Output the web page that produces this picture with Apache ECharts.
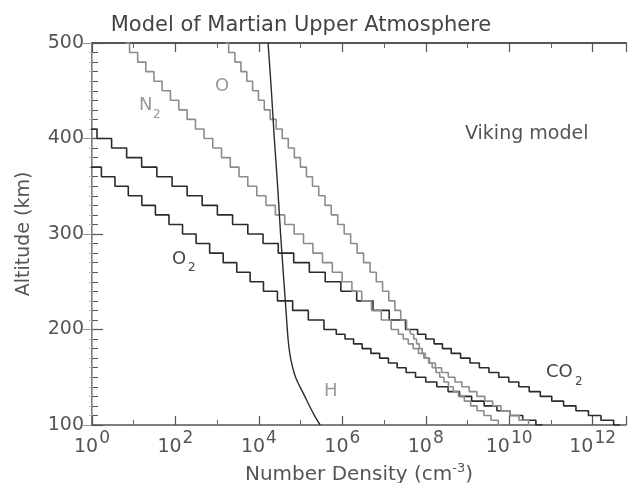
<!DOCTYPE html>
<html>
<head>
<meta charset="utf-8">
<script src="https://cdn.jsdelivr.net/npm/echarts@6/dist/echarts.min.js"></script>
<style>
  html, body { margin: 0; padding: 0; background: #fff; }
  #chart { width: 628px; height: 483px; }
</style>
</head>
<body>
<div id="chart"></div>
<script>
// altitude (km) and log10 of number density (cm^-3)
// model grid is 10 km above 200 km and 5 km below
var co2Alt = [410, 400, 390, 380, 370, 360, 350, 340, 330, 320, 310, 300, 290, 280, 270, 260, 250, 240, 230, 220, 210, 200,
  195, 190, 185, 180, 175, 170, 165, 160, 155, 150, 145, 140, 135, 130, 125, 120, 115, 110, 105, 100];
var co2Log = [-0.05, 0.29, 0.65, 1.01, 1.37, 1.74, 2.10, 2.46, 2.82, 3.19, 3.55, 3.92, 4.28, 4.65, 5.02, 5.40, 5.78, 6.15, 6.54, 6.93, 7.32, 7.71,
  7.90, 8.10, 8.30, 8.50, 8.72, 8.95, 9.17, 9.40, 9.63, 9.87, 10.11, 10.35, 10.61, 10.88, 11.16, 11.45, 11.75, 12.05, 12.35, 12.66];

var o2Alt = [380, 370, 360, 350, 340, 330, 320, 310, 300, 290, 280, 270, 260, 250, 240, 230, 220, 210, 200,
  195, 190, 185, 180, 175, 170, 165, 160, 155, 150, 145, 140, 135, 130, 125, 120, 115, 110, 105, 100];
var o2Log = [-0.26, 0.06, 0.39, 0.71, 1.03, 1.36, 1.68, 2.01, 2.33, 2.66, 2.98, 3.31, 3.63, 3.95, 4.27, 4.62, 5.00, 5.37, 5.75,
  5.96, 6.17, 6.37, 6.58, 6.79, 7.00, 7.21, 7.42, 7.64, 7.87, 8.13, 8.40, 8.67, 8.95, 9.25, 9.55, 9.86, 10.17, 10.48, 10.80];

var fullAlt = [500, 490, 480, 470, 460, 450, 440, 430, 420, 410, 400, 390, 380, 370, 360, 350, 340, 330, 320, 310, 300, 290, 280, 270, 260, 250, 240, 230, 220, 210, 200,
  195, 190, 185, 180, 175, 170, 165, 160, 155, 150, 145, 140, 135, 130, 125, 120, 115, 110, 105, 100];
var n2Log = [0.80, 1.00, 1.19, 1.39, 1.58, 1.78, 1.98, 2.18, 2.38, 2.58, 2.79, 3.00, 3.21, 3.42, 3.63, 3.84, 4.06, 4.28, 4.51, 4.73, 4.96, 5.18, 5.41, 5.64, 5.88, 6.11, 6.35, 6.58, 6.82, 7.05, 7.29,
  7.40, 7.52, 7.64, 7.76, 7.89, 8.02, 8.16, 8.30, 8.46, 8.62, 8.78, 8.95, 9.13, 9.32, 9.51, 9.70, 9.91, 10.12, 10.35, 10.58];
var oLog = [3.20, 3.35, 3.50, 3.64, 3.78, 3.92, 4.06, 4.20, 4.34, 4.49, 4.63, 4.78, 4.92, 5.07, 5.21, 5.36, 5.51, 5.66, 5.81, 5.97, 6.12, 6.28, 6.43, 6.59, 6.74, 6.89, 7.04, 7.19, 7.33, 7.47, 7.61,
  7.68, 7.75, 7.81, 7.88, 7.95, 8.03, 8.11, 8.20, 8.29, 8.38, 8.49, 8.60, 8.72, 8.85, 9.00, 9.15, 9.31, 9.48, 9.65, 9.83];

var hAlt = [500, 450, 400, 350, 300, 250, 220, 190, 170, 150, 130, 110, 100];
var hLog = [4.22, 4.30, 4.37, 4.45, 4.52, 4.60, 4.65, 4.70, 4.76, 4.88, 5.10, 5.33, 5.47];

var xTicks = [0, 2, 4, 6, 8, 10, 12];
var yTicks = [100, 200, 300, 400, 500];

var FONT = 'DejaVu Sans';
var DARK = '#2b2b2b';
var GRAY = '#8c8c8c';
var TEXT = '#555';

function pairs(xs, ys) {
  var out = [];
  for (var i = 0; i < xs.length; i++) {
    out.push([xs[i], ys[i]]);
  }
  return out;
}

function stepSeries(name, xs, ys, color) {
  return {
    name: name,
    type: 'line',
    step: 'middle',
    showSymbol: false,
    clip: true,
    data: pairs(xs, ys),
    lineStyle: { color: color, width: 1.6 }
  };
}

function label(txt, x, y, size, color) {
  return {
    type: 'text', left: x, top: y,
    style: { text: txt, font: size + 'px "DejaVu Sans"', fill: color }
  };
}

var chart = echarts.init(document.getElementById('chart'), null, { renderer: 'canvas' });

var supRich = {
  base: { fontFamily: FONT, fontSize: 19, color: TEXT },
  sup: { fontFamily: FONT, fontSize: 17, color: TEXT, padding: [0, 0, 18, 1] }
};

var option = {
  animation: false,
  backgroundColor: '#fff',
  title: {
    text: 'Model of Martian Upper Atmosphere',
    left: 296,
    textAlign: 'center',
    top: 10,
    textStyle: { fontFamily: FONT, fontSize: 21, fontWeight: 'normal', color: '#444' }
  },
  grid: { left: 92, top: 43, width: 534, height: 382, outerBoundsMode: 'none', containLabel: false },
  xAxis: [{
    type: 'value',
    position: 'bottom',
    min: 0,
    max: 12.8,
    interval: 2,
    name: 'Number Density (cm{sup|-3})',
    nameLocation: 'middle',
    nameGap: 29,
    nameTextStyle: {
      fontFamily: FONT, fontSize: 20, color: TEXT,
      rich: {
        sup: { fontFamily: FONT, fontSize: 13, color: TEXT, padding: [0, 0, 13, 0] }
      }
    },
    splitLine: { show: false },
    axisLine: { lineStyle: { color: '#555', width: 1.5 } },
    axisTick: { inside: true, length: 9, lineStyle: { color: '#555', width: 1.2 } },
    minorTick: { show: true, splitNumber: 2, length: 5, lineStyle: { color: '#666' } },
    axisLabel: {
      margin: 5,
      showMaxLabel: false,
      formatter: function (v) {
        if (xTicks.indexOf(v) < 0) return '';
        return '{base|10}{sup|' + v + '}';
      },
      rich: supRich
    }
  }, {
    type: 'value',
    position: 'top',
    min: 0,
    max: 12.8,
    interval: 2,
    splitLine: { show: false },
    axisLine: { lineStyle: { color: '#555', width: 2 } },
    axisTick: { inside: true, length: 9, lineStyle: { color: '#555', width: 1.2 } },
    minorTick: { show: true, splitNumber: 2, length: 5, lineStyle: { color: '#666' } },
    axisLabel: { show: false }
  }],
  yAxis: [{
    type: 'value',
    position: 'left',
    min: 100,
    max: 500,
    interval: 100,
    name: 'Altitude (km)',
    nameLocation: 'middle',
    nameGap: 58,
    nameTextStyle: { fontFamily: FONT, fontSize: 19, color: TEXT },
    splitLine: { show: false },
    axisLine: { lineStyle: { color: '#555', width: 1.5 } },
    axisTick: { inside: true, length: 11, lineStyle: { color: '#555', width: 1.2 } },
    minorTick: { show: true, splitNumber: 10, length: 6, lineStyle: { color: '#555' } },
    axisLabel: {
      margin: 8,
      fontFamily: FONT, fontSize: 19, color: TEXT,
      formatter: function (v) { return yTicks.indexOf(v) < 0 ? '' : String(v); }
    }
  }, {
    type: 'value',
    position: 'right',
    min: 100,
    max: 500,
    interval: 100,
    splitLine: { show: false },
    axisLine: { lineStyle: { color: '#bbb', width: 1, type: 'dotted' } },
    axisTick: { inside: true, length: 9, lineStyle: { color: '#999' } },
    minorTick: { show: true, splitNumber: 10, length: 3, lineStyle: { color: '#bbb' } },
    axisLabel: { show: false }
  }],
  series: [
    stepSeries('CO2', co2Log, co2Alt, DARK),
    stepSeries('O2', o2Log, o2Alt, DARK),
    stepSeries('N2', n2Log, fullAlt, GRAY),
    stepSeries('O', oLog, fullAlt, GRAY),
    {
      name: 'H',
      type: 'line',
      smooth: 0.3,
      showSymbol: false,
      data: pairs(hLog, hAlt),
      lineStyle: { color: DARK, width: 1.4 }
    }
  ],
  graphic: [
    label('Viking model', 465, 125, 19, TEXT),
    label('O', 215, 77, 18, '#999'),
    label('N', 139, 96, 18, '#999'),
    label('2', 153, 109, 12, '#999'),
    label('O', 172, 250, 18, '#444'),
    label('2', 188, 262, 12, '#444'),
    label('H', 324, 382, 18, '#999'),
    label('CO', 546, 363, 18, '#444'),
    label('2', 575, 376, 12, '#444')
  ]
};

chart.setOption(option);
</script>
</body>
</html>
